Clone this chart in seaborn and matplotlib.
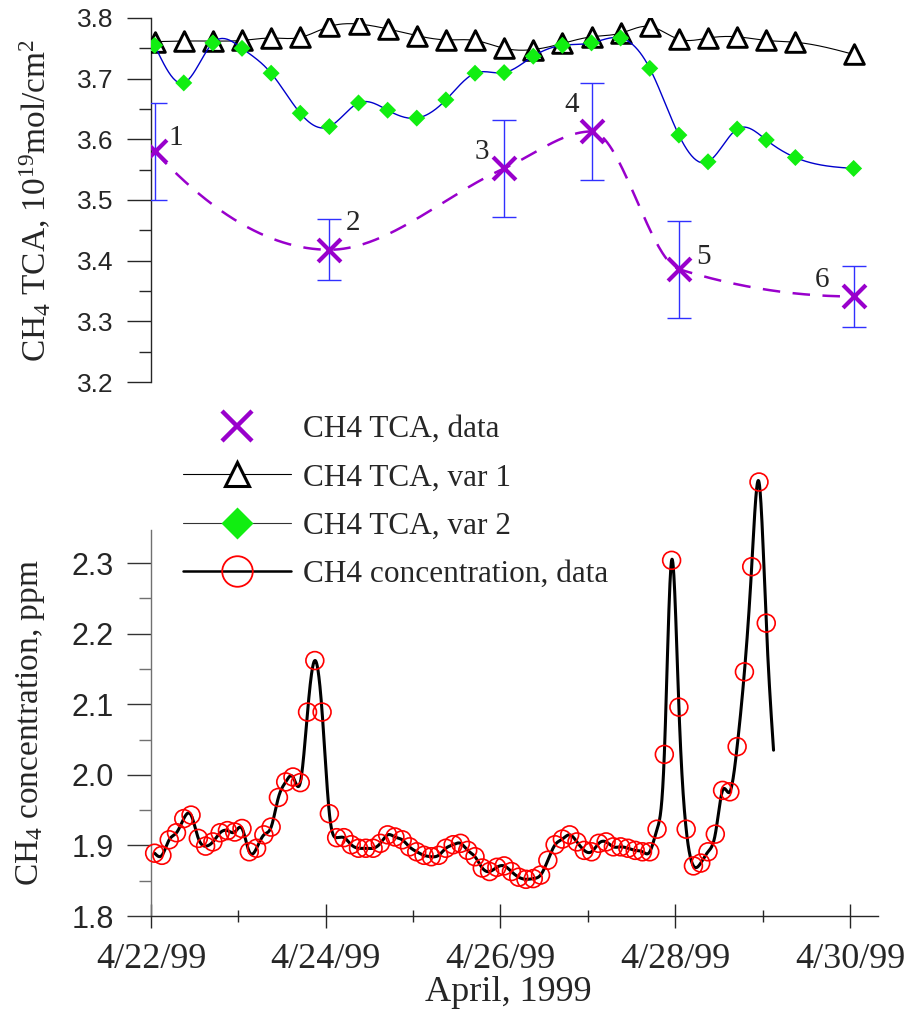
import numpy as np
import matplotlib
matplotlib.use("Agg")
import matplotlib.pyplot as plt
from matplotlib.lines import Line2D
from matplotlib.ticker import MultipleLocator, FormatStrFormatter
import seaborn as sns

# --------------------------
# data
# --------------------------
# x axis: days since 4/22/99 00:00
tick_days = [0, 2, 4, 6, 8]
tick_labels = ["4/22/99", "4/24/99", "4/26/99", "4/28/99", "4/30/99"]

# CH4 total column (10^19 mol/cm2), samples every 8 h starting 01:00
tca_hours = [1, 9, 17, 25, 33, 41, 49, 57, 65, 73, 81, 89, 97, 105, 113,
             121, 129, 137, 145, 153, 161, 169, 177, 193]
tca_var1 = [3.761, 3.762, 3.762, 3.763, 3.767, 3.768, 3.786, 3.790, 3.782,
            3.771, 3.764, 3.763, 3.750, 3.748, 3.758, 3.769, 3.775, 3.786,
            3.765, 3.767, 3.769, 3.763, 3.760, 3.740]
tca_var2 = [3.755, 3.693, 3.759, 3.750, 3.709, 3.643, 3.621, 3.660, 3.648,
            3.635, 3.665, 3.709, 3.710, 3.737, 3.755, 3.759, 3.767, 3.717,
            3.607, 3.563, 3.617, 3.599, 3.570, 3.552]

# CH4 TCA measurements with error bars
data_hours = [1, 49, 97, 121, 145, 193]
data_tca = [3.580, 3.418, 3.552, 3.613, 3.386, 3.341]
data_err = [0.080, 0.050, 0.080, 0.080, 0.080, 0.050]
data_ids = ["1", "2", "3", "4", "5", "6"]

# CH4 surface concentration (ppm), every 2 h starting 01:00
# (last value is on the line only, no marker)
conc_ppm = [1.889, 1.886, 1.908, 1.918, 1.938, 1.943, 1.910, 1.899, 1.905, 1.918,
            1.921, 1.919, 1.924, 1.891, 1.896, 1.915, 1.926, 1.968, 1.990, 1.997,
            1.989, 2.089, 2.162, 2.089, 1.945, 1.911, 1.911, 1.901, 1.896, 1.896,
            1.896, 1.903, 1.915, 1.912, 1.908, 1.898, 1.891, 1.886, 1.884, 1.886,
            1.896, 1.901, 1.903, 1.893, 1.884, 1.868, 1.863, 1.869, 1.871, 1.863,
            1.855, 1.852, 1.853, 1.858, 1.879, 1.901, 1.909, 1.915, 1.905, 1.893,
            1.891, 1.903, 1.905, 1.898, 1.898, 1.896, 1.893, 1.891, 1.891, 1.923,
            2.029, 2.304, 2.096, 1.923, 1.871, 1.875, 1.891, 1.916, 1.978, 1.976,
            2.040, 2.146, 2.295, 2.415, 2.215, 2.035]
conc_hours = 1 + 2 * np.arange(len(conc_ppm))
n_conc_markers = len(conc_ppm) - 1


def natural_spline(x, y, num=600):
    # smooth connecting line through the points (Origin-style "spline" line)
    x = np.asarray(x, float)
    y = np.asarray(y, float)
    n = len(x)
    h = np.diff(x)
    A = np.zeros((n, n))
    r = np.zeros(n)
    A[0, 0] = A[-1, -1] = 1.0
    for i in range(1, n - 1):
        A[i, i - 1] = h[i - 1]
        A[i, i] = 2 * (h[i - 1] + h[i])
        A[i, i + 1] = h[i]
        r[i] = 6 * ((y[i + 1] - y[i]) / h[i] - (y[i] - y[i - 1]) / h[i - 1])
    M = np.linalg.solve(A, r)
    xs = np.linspace(x[0], x[-1], num)
    j = np.clip(np.searchsorted(x, xs) - 1, 0, n - 2)
    hj = h[j]
    a = (x[j + 1] - xs) / hj
    b = (xs - x[j]) / hj
    ys = a * y[j] + b * y[j + 1] + ((a ** 3 - a) * M[j] + (b ** 3 - b) * M[j + 1]) * hj ** 2 / 6
    return xs, ys


def pchip(x, y, num=600):
    # monotone cubic (Fritsch-Carlson) line, no overshoot between the points
    x = np.asarray(x, float)
    y = np.asarray(y, float)
    n = len(x)
    h = np.diff(x)
    delta = np.diff(y) / h
    d = np.zeros(n)
    for k in range(1, n - 1):
        if delta[k - 1] * delta[k] > 0:
            w1 = 2 * h[k] + h[k - 1]
            w2 = h[k] + 2 * h[k - 1]
            d[k] = (w1 + w2) / (w1 / delta[k - 1] + w2 / delta[k])

    def end_slope(h0, h1, d0, d1):
        s = ((2 * h0 + h1) * d0 - h0 * d1) / (h0 + h1)
        if np.sign(s) != np.sign(d0):
            return 0.0
        if np.sign(d0) != np.sign(d1) and abs(s) > abs(3 * d0):
            return 3 * d0
        return s

    d[0] = end_slope(h[0], h[1], delta[0], delta[1])
    d[-1] = end_slope(h[-1], h[-2], delta[-1], delta[-2])
    xs = np.linspace(x[0], x[-1], num)
    j = np.clip(np.searchsorted(x, xs) - 1, 0, n - 2)
    t = (xs - x[j]) / h[j]
    h00 = 2 * t ** 3 - 3 * t ** 2 + 1
    h10 = t ** 3 - 2 * t ** 2 + t
    h01 = -2 * t ** 3 + 3 * t ** 2
    h11 = t ** 3 - t ** 2
    ys = h00 * y[j] + h10 * h[j] * d[j] + h01 * y[j + 1] + h11 * h[j] * d[j + 1]
    return xs, ys


tca_days = np.array(tca_hours) / 24
data_days = np.array(data_hours) / 24
conc_days = conc_hours / 24

# --------------------------
# style
# --------------------------
sns.set_style("ticks")
plt.rcParams["font.family"] = ["Liberation Serif", "DejaVu Serif"]
plt.rcParams["mathtext.default"] = "regular"
plt.rcParams["axes.linewidth"] = 1.0

purple = "#9900cc"
green = "#11ee11"
err_blue = "#3030ff"

W, H = 906, 1009
fig = plt.figure(figsize=(W / 100, H / 100), dpi=100)
ax_top = fig.add_axes([151 / W, 1 - 382 / H, 727 / W, 364 / H])
ax_bot = fig.add_axes([151 / W, 1 - 916 / H, 727 / W, 386 / H])
xmax = 727 / 87.375

# --------------------------
# top panel: CH4 TCA
# --------------------------
xs, ys = natural_spline(tca_days, tca_var1)
sns.lineplot(x=xs, y=ys, ax=ax_top, color="black", linewidth=0.8,
             sort=False, estimator=None, zorder=2)
sns.scatterplot(x=tca_days, y=tca_var1, ax=ax_top, marker="^", s=200,
                facecolor="white", edgecolor="black", linewidth=2.1, zorder=3)

xs, ys = natural_spline(tca_days, tca_var2)
sns.lineplot(x=xs, y=ys, ax=ax_top, color="#0000cc", linewidth=1.0,
             sort=False, estimator=None, zorder=4)
sns.scatterplot(x=tca_days, y=tca_var2, ax=ax_top, marker="D", s=75,
                color=green, edgecolor="none", zorder=5)

xs, ys = pchip(data_days, data_tca)
sns.lineplot(x=xs, y=ys, ax=ax_top, color=purple, linewidth=1.8,
             sort=False, estimator=None, zorder=6)
ax_top.lines[-1].set_dashes((7, 5))
ax_top.errorbar(data_days, data_tca, yerr=data_err, fmt="none", ecolor=err_blue,
                elinewidth=1.0, capsize=8.5, capthick=1.0, zorder=7)
sns.scatterplot(x=data_days, y=data_tca, ax=ax_top, marker="x", s=270,
                color=purple, linewidth=3, zorder=8)

id_offsets = [(15, 10), (17, 19), (-16, 12), (-14, 19), (18, 9), (-23, 12)]
for d, v, lab, off in zip(data_days, data_tca, data_ids, id_offsets):
    ax_top.annotate(lab, (d, v), xytext=off, textcoords="offset points",
                    ha="center", va="center", fontsize=21)

ax_top.set_xlim(0, xmax)
ax_top.set_ylim(3.2, 3.8)
ax_top.yaxis.set_major_locator(MultipleLocator(0.1))
ax_top.yaxis.set_minor_locator(MultipleLocator(0.05))
ax_top.yaxis.set_major_formatter(FormatStrFormatter("%.1f"))
ax_top.tick_params(axis="y", which="major", direction="out", length=17, width=1,
                   labelsize=19, pad=10, labelfontfamily="Liberation Sans")
ax_top.tick_params(axis="y", which="minor", direction="out", length=8.5, width=1)
ax_top.xaxis.set_visible(False)
for side in ["top", "right", "bottom"]:
    ax_top.spines[side].set_visible(False)
ax_top.set_ylabel("CH$_4$ TCA, 10$^{19}$mol/cm$^2$", fontsize=24)
ax_top.yaxis.set_label_coords(-0.135, 0.5)

# --------------------------
# bottom panel: CH4 concentration
# --------------------------
xs, ys = natural_spline(conc_days, conc_ppm, num=3000)
sns.lineplot(x=xs, y=ys, ax=ax_bot, color="black", linewidth=2.2,
             sort=False, estimator=None, clip_on=False, zorder=3)
sns.scatterplot(x=conc_days[:n_conc_markers], y=conc_ppm[:n_conc_markers], ax=ax_bot,
                marker="o", s=165, facecolor="none", edgecolor="red",
                linewidth=1.2, clip_on=False, zorder=4)

ax_bot.set_xlim(0, xmax)
ax_bot.set_ylim(1.8, 2.347)
ax_bot.set_xticks(tick_days, labels=tick_labels)
ax_bot.xaxis.set_minor_locator(MultipleLocator(1))
ax_bot.tick_params(axis="x", which="major", direction="inout", length=17, width=1,
                   labelsize=26, pad=11)
ax_bot.tick_params(axis="x", which="minor", direction="inout", length=8.5, width=1)
ax_bot.yaxis.set_major_locator(MultipleLocator(0.1))
ax_bot.yaxis.set_minor_locator(MultipleLocator(0.05))
ax_bot.yaxis.set_major_formatter(FormatStrFormatter("%.1f"))
ax_bot.tick_params(axis="y", which="major", direction="out", length=17, width=1,
                   color="#333333", labelsize=22, pad=10,
                   labelfontfamily="Liberation Sans")
ax_bot.tick_params(axis="y", which="minor", direction="out", length=8.5, width=1,
                   color="#707070")
ax_bot.spines["left"].set_color("#707070")
for side in ["top", "right"]:
    ax_bot.spines[side].set_visible(False)
ax_bot.set_ylabel("CH$_4$ concentration, ppm", fontsize=24)
ax_bot.yaxis.set_label_coords(-0.143, 0.5)
ax_bot.set_xlabel("April, 1999", fontsize=26)
ax_bot.xaxis.set_label_coords(0.491, -0.155)

# --------------------------
# legend between the panels
# --------------------------
handles = [
    Line2D([], [], linestyle="none", marker="x", markersize=22, markeredgewidth=3.2,
           color=purple),
    Line2D([], [], color="black", linewidth=0.8, marker="^", markersize=17,
           markerfacecolor="white", markeredgecolor="black", markeredgewidth=2.2),
    Line2D([], [], color="#333333", linewidth=0.8, marker="D", markersize=16,
           markerfacecolor=green, markeredgecolor="none"),
    Line2D([], [], color="black", linewidth=1.8, marker="o", markersize=22,
           markerfacecolor="none", markeredgecolor="red", markeredgewidth=1.3),
]
labels = ["CH4 TCA, data", "CH4 TCA, var 1", "CH4 TCA, var 2",
          "CH4 concentration, data"]
fig.legend(handles, labels, loc="upper left", bbox_to_anchor=(183 / W, 1 - 415 / H),
           frameon=False, fontsize=22.5, handlelength=3.45, handletextpad=0.38,
           labelspacing=0.62, borderpad=0, borderaxespad=0, numpoints=1)

fig.savefig("out.png", dpi=100)
